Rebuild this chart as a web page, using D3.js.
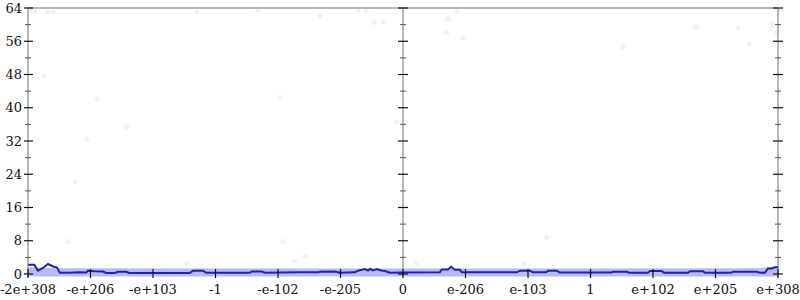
<!DOCTYPE html>
<html>
<head>
<meta charset="utf-8">
<script src="https://cdn.jsdelivr.net/npm/d3@7"></script>
<style>
  body { margin: 0; background: #fff; }
  text { font-family: "DejaVu Serif", serif; font-size: 13px; fill: #111; }
</style>
</head>
<body>
<svg id="chart" width="800" height="300"></svg>
<script>
// tick labels along x (one per tick position, -6 .. 6)
var xLabels = ["-2e+308", "-e+206", "-e+103", "-1", "-e-102", "-e-205", "0",
               "e-206", "e-103", "1", "e+102", "e+205", "e+308"];
var yMajor = [0, 8, 16, 24, 32, 40, 48, 56, 64];
var yMinor = [4, 12, 20, 28, 36, 44, 52, 60];

// mean line
var lineX = [-6.00, -5.90, -5.84, -5.76, -5.68, -5.60, -5.54, -5.49, -5.33, -5.20, -5.07, -5.04,
             -4.93, -4.80, -4.75, -4.61, -4.56, -4.43, -4.38, -3.89, -3.41, -3.36, -3.20, -3.15,
             -2.77, -2.45, -2.42, -2.26, -2.21, -1.65, -1.36, -1.33, -1.09, -1.01, -0.77, -0.72,
             -0.61, -0.56, -0.53, -0.48, -0.42, -0.35, -0.29, -0.21, 0.00,
             0.59, 0.62, 0.72, 0.77, 0.83, 0.91, 0.94, 1.39, 1.82, 1.87, 2.03, 2.08,
             2.29, 2.32, 2.46, 2.51, 2.99, 3.33, 3.36, 3.58, 3.62, 3.92, 3.95, 4.14,
             4.18, 4.56, 4.59, 4.80, 4.83, 5.25, 5.28, 5.66, 5.71, 5.79, 5.84, 5.90, 5.95, 6.00];
var lineY = [2.2, 2.2, 0.8, 1.45, 2.4, 1.8, 1.6, 0.3, 0.3, 0.4, 0.35, 0.8,
             0.65, 0.6, 0.25, 0.25, 0.55, 0.55, 0.25, 0.25, 0.25, 0.8, 0.8, 0.3,
             0.3, 0.3, 0.6, 0.6, 0.3, 0.4, 0.4, 0.55, 0.6, 0.3, 0.4, 0.8,
             1.2, 0.85, 1.2, 0.85, 1.2, 0.85, 0.7, 0.3, 0.35,
             0.4, 1.1, 1.1, 1.75, 1.0, 1.0, 0.4, 0.4, 0.4, 0.8, 0.8, 0.4,
             0.4, 0.8, 0.8, 0.35, 0.35, 0.35, 0.55, 0.55, 0.3, 0.3, 0.7, 0.7,
             0.3, 0.3, 0.65, 0.65, 0.3, 0.3, 0.55, 0.55, 0.3, 0.3, 1.35, 1.35, 1.6, 1.6];

// spread band
var bandX = [-6, -5.5, -3, 0, 3, 5.7, 6];
var bandLow = [-0.6, -0.6, -0.6, -0.6, -0.6, -0.6, -0.6];
var bandHigh = [1.6, 1.4, 1.35, 1.35, 1.35, 1.4, 1.9];

// outlier samples
var ptX = [-5.97, -5.89, -5.68, -5.60, -5.74, -4.90, -4.42, -5.06, -5.25, -5.36, -3.30, -2.32,
           -1.33, -0.72, -0.59, -0.46, -0.32, -0.10, -1.92, -1.57, -1.74, -3.46, -1.97,
           0.72, 0.86, 0.70, 2.30, 0.22, 1.94, 4.69, 5.36, 5.90, 5.92, 5.98, 5.54, 3.52, 0.96];
var ptY = [63.4, 63.4, 63.1, 63.1, 47.6, 42.1, 35.4, 32.5, 22.2, 7.8, 63.1, 63.5,
           62.1, 63.4, 63.4, 60.5, 60.5, 36.6, 7.8, 4.3, 3.1, 2.7, 42.6,
           61.4, 63.3, 58.1, 8.8, 2.6, 2.4, 59.4, 59.1, 60.3, 59.7, 58.1, 55.3, 54.6, 56.8];

var svg = d3.select("#chart");
var x = d3.scaleLinear().domain([-6, 6]).range([28, 778]);
var y = d3.scaleLinear().domain([0, 64]).range([274, 8]);
var xTicks = d3.range(-6, 7);
var axesAt = [-6, 0, 6];

// samples
svg.selectAll("circle.pt")
   .data(d3.zip(ptX, ptY))
   .enter().append("circle")
   .attr("class", "pt")
   .attr("cx", function(d) { return x(d[0]); })
   .attr("cy", function(d) { return y(d[1]); })
   .attr("r", 2.5)
   .attr("fill", "#f0f0fc");

// grey frame lines
svg.append("line")
   .attr("x1", x(-6)).attr("x2", x(6))
   .attr("y1", y(64)).attr("y2", y(64))
   .attr("stroke", "#b8b8b8").attr("stroke-width", 2);
svg.selectAll("line.vax")
   .data(axesAt)
   .enter().append("line")
   .attr("class", "vax")
   .attr("x1", function(d) { return x(d); })
   .attr("x2", function(d) { return x(d); })
   .attr("y1", y(64)).attr("y2", y(0) + 3)
   .attr("stroke", "#b8b8b8").attr("stroke-width", 2);

// band
var band = d3.area()
   .x(function(d) { return x(d[0]); })
   .y0(function(d) { return y(d[1]); })
   .y1(function(d) { return y(d[2]); });
svg.append("path")
   .datum(d3.zip(bandX, bandLow, bandHigh))
   .attr("d", band)
   .attr("fill", "#8a8aee")
   .attr("opacity", 0.6);

// mean line
var line = d3.line()
   .x(function(d) { return x(d[0]); })
   .y(function(d) { return y(d[1]); });
svg.append("path")
   .datum(d3.zip(lineX, lineY))
   .attr("d", line)
   .attr("fill", "none")
   .attr("stroke", "#25259c")
   .attr("stroke-width", 2);

// y ticks on every vertical axis
axesAt.forEach(function(a, i) {
   var ax = x(a);
   var lo = i == 0 ? 4 : 5, hi = 5;
   svg.selectAll(null).data(yMajor).enter().append("line")
      .attr("x1", ax - lo).attr("x2", ax + hi)
      .attr("y1", function(d) { return y(d); })
      .attr("y2", function(d) { return y(d); })
      .attr("stroke", "#111").attr("stroke-width", 1.2);
   svg.selectAll(null).data(yMinor).enter().append("line")
      .attr("x1", ax - 3).attr("x2", ax + 3)
      .attr("y1", function(d) { return y(d); })
      .attr("y2", function(d) { return y(d); })
      .attr("stroke", "#555").attr("stroke-width", 1);
});

svg.selectAll("text.yl")
   .data(yMajor)
   .enter().append("text")
   .attr("class", "yl")
   .attr("x", 22)
   .attr("y", function(d) { return y(d); })
   .attr("dy", "0.35em")
   .attr("text-anchor", "end")
   .text(function(d) { return d; });

// x ticks + labels
svg.selectAll("line.xt")
   .data(xTicks)
   .enter().append("line")
   .attr("class", "xt")
   .attr("x1", function(d) { return x(d); })
   .attr("x2", function(d) { return x(d); })
   .attr("y1", y(0) - 5).attr("y2", y(0) + 4)
   .attr("stroke", "#111").attr("stroke-width", 1.2);

svg.selectAll("text.xl")
   .data(xTicks)
   .enter().append("text")
   .attr("class", "xl")
   .attr("x", function(d) { return x(d); })
   .attr("y", 294)
   .attr("text-anchor", "middle")
   .text(function(d, i) { return xLabels[i]; });
</script>
</body>
</html>
